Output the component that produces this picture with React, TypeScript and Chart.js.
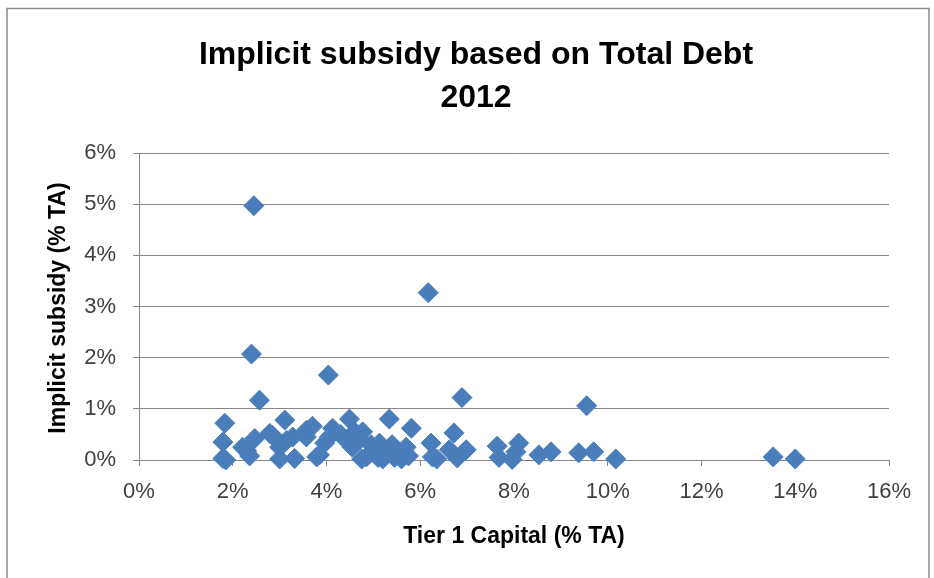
import React, { useEffect, useRef } from "react";
import { Chart, registerables } from "chart.js";

Chart.register(...registerables);

// Tier 1 capital (% of total assets) for each bank
const tier1Capital = [
  2.45, 2.40, 6.17, 4.04, 2.57, 6.89, 9.55,
  1.83, 1.79, 1.79, 1.85,
  2.21, 2.36, 2.47, 2.30,
  2.79, 2.85, 3.11, 3.00, 3.00, 3.32, 3.28, 3.15,
  3.57, 3.70, 3.57, 3.79, 3.85, 3.96, 4.06, 4.13, 4.30, 4.49, 4.55, 4.40, 4.60,
  4.77, 4.70, 4.85, 4.75, 4.95, 5.00, 5.10, 5.13, 5.20, 5.25, 5.34, 5.40, 5.45,
  5.55, 5.60, 5.70, 5.81, 5.75,
  6.23, 6.26, 6.35, 6.72, 6.62, 6.79, 6.98,
  7.64, 7.68, 7.96, 8.10, 8.04, 8.53, 8.79, 9.38, 9.70, 10.17, 13.53, 14.00,
];

// Implicit subsidy (% of total assets) for each bank
const implicitSubsidy = [
  4.97, 2.07, 3.27, 1.66, 1.17, 1.22, 1.06,
  0.72, 0.35, 0.03, 0.00,
  0.25, 0.08, 0.42, 0.18,
  0.52, 0.48, 0.78, 0.25, 0.02, 0.03, 0.45, 0.38,
  0.58, 0.66, 0.45, 0.06, 0.10, 0.33, 0.45, 0.62, 0.50, 0.80, 0.25, 0.40, 0.55,
  0.55, 0.40, 0.06, 0.02, 0.30, 0.15, 0.05, 0.33, 0.02, 0.10, 0.80, 0.30, 0.05,
  0.15, 0.02, 0.25, 0.62, 0.08,
  0.33, 0.06, 0.02, 0.53, 0.20, 0.04, 0.20,
  0.27, 0.05, 0.01, 0.33, 0.16, 0.10, 0.16, 0.14, 0.16, 0.02, 0.06, 0.02,
];

const xTickValues = [0, 2, 4, 6, 8, 10, 12, 14, 16];
const yTickValues = [0, 1, 2, 3, 4, 5, 6];

const titleLines = ["Implicit subsidy based on Total Debt", "2012"];
const xAxisTitle = "Tier 1 Capital (% TA)";
const yAxisTitle = "Implicit subsidy (% TA)";

const FONT = '"Liberation Sans", Arial, sans-serif';

const textPlugin = {
  id: "texts",
  beforeDraw(chart: any) {
    const ctx = chart.ctx;
    ctx.save();
    ctx.fillStyle = "#ffffff";
    ctx.fillRect(0, 0, chart.width, chart.height);
    ctx.strokeStyle = "#8c8c8c";
    ctx.lineWidth = 1.5;
    ctx.strokeRect(7, 8.5, 922, 640);
    ctx.restore();
  },
  afterDraw(chart: any) {
    const ctx = chart.ctx;
    ctx.save();
    ctx.fillStyle = "#000000";
    ctx.textAlign = "center";
    ctx.textBaseline = "middle";
    ctx.font = `bold 32px ${FONT}`;
    ctx.fillText(titleLines[0], 476, 55);
    ctx.fillText(titleLines[1], 476, 98);

    ctx.font = `bold 23px ${FONT}`;
    ctx.fillText(xAxisTitle, 514, 537);

    ctx.translate(59, 308);
    ctx.rotate(-Math.PI / 2);
    ctx.fillText(yAxisTitle, 0, 0);
    ctx.restore();
  },
};

export default function App() {
  const ref = useRef<HTMLCanvasElement>(null);

  useEffect(() => {
    const points = tier1Capital.map((x, i) => ({ x, y: implicitSubsidy[i] }));
    const tickFont = { family: FONT, size: 22 };
    const chart = new Chart(ref.current as HTMLCanvasElement, {
      type: "scatter",
      data: {
        datasets: [
          {
            data: points,
            pointStyle: "rectRot",
            pointRadius: 10,
            pointHoverRadius: 10,
            backgroundColor: "#4a7ebb",
            borderColor: "#4a7ebb",
            borderWidth: 1,
            clip: false,
          } as any,
        ],
      },
      plugins: [textPlugin],
      options: {
        animation: false,
        responsive: false,
        events: [],
        layout: { padding: { top: 153, right: 45, left: 0, bottom: 0 } },
        plugins: { legend: { display: false }, tooltip: { enabled: false } },
        scales: {
          x: {
            type: "linear",
            min: 0,
            max: 16,
            afterBuildTicks: (s: any) => {
              s.ticks = xTickValues.map((v) => ({ value: v }));
            },
            afterFit: (s: any) => {
              s.height = 118;
            },
            ticks: {
              callback: (v: any) => `${v}%`,
              font: tickFont,
              color: "#404040",
              padding: 13,
              autoSkip: false,
              maxRotation: 0,
            },
            grid: { drawOnChartArea: false, drawTicks: true, tickLength: 6, color: "#868686" },
            border: { display: true, color: "#868686", width: 1 },
          },
          y: {
            type: "linear",
            min: 0,
            max: 6,
            afterBuildTicks: (s: any) => {
              s.ticks = yTickValues.map((v) => ({ value: v }));
            },
            afterFit: (s: any) => {
              s.width = 139;
            },
            ticks: {
              callback: (v: any) => `${v}%`,
              font: tickFont,
              color: "#404040",
              padding: 17,
              autoSkip: false,
            },
            grid: { drawTicks: true, tickLength: 6, color: "#868686" },
            border: { display: true, color: "#868686", width: 1 },
          },
        },
      } as any,
    });
    return () => chart.destroy();
  }, []);

  return (
    <div style={{ position: "absolute", left: 0, top: 0, width: 934, height: 578, background: "#fff" }}>
      <canvas ref={ref} width={934} height={578} style={{ display: "block" }} />
    </div>
  );
}
